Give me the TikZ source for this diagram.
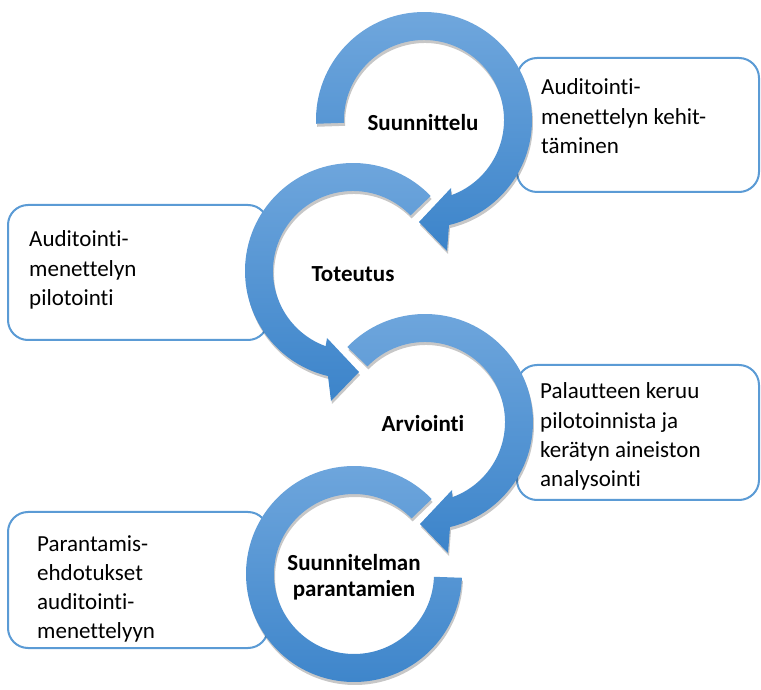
\documentclass[tikz,border=0pt]{standalone}
\usepackage{fontspec}
\setmainfont{Carlito}[Ligatures=NoCommon]
\usetikzlibrary{shadows}
\definecolor{boxline}{RGB}{91,155,213}
\definecolor{ringtop}{RGB}{112,167,221}
\definecolor{ringbot}{RGB}{60,132,202}
\begin{document}
\begin{tikzpicture}[x=1pt,y=1pt,
  infobox/.style={draw=boxline, line width=2pt, fill=white, rounded corners=20pt},
  ring/.style={top color=ringtop, bottom color=ringbot, draw=none,
    drop shadow={shadow xshift=1pt, shadow yshift=-3pt, opacity=0.22, fill=black}},
  boxtext/.style={anchor=base west, inner sep=0pt, font=\fontsize{23}{29.3}\selectfont},
  steplabel/.style={anchor=base, inner sep=0pt, font=\bfseries\fontsize{23}{26}\selectfont}
]
\useasboundingbox (0,0) rectangle (761,689);

% information boxes (behind the rings)
\path[infobox] (517,497) rectangle (759,631);
\path[infobox] (8,349) rectangle (268,484);
\path[infobox] (517,189) rectangle (759,324);
\path[infobox] (8,41) rectangle (268,177);

% ring 1: Suunnittelu (clockwise, arrow at bottom)
\begin{scope}[shift={(424,569)}]
\path[ring] (182:108) arc[start angle=182, end angle=-76.6, radius=108]
  -- (23,-131) -- (-5,-102) -- (27,-68) -- (-70:80)
  arc[start angle=-70, end angle=182, radius=80] -- cycle;
\end{scope}

% ring 2: Toteutus (counter-clockwise, arrow at bottom)
\begin{scope}[shift={(353,418)}]
\path[ring] (44:108) arc[start angle=44, end angle=256.6, radius=108]
  -- (-22,-130) -- (6,-101) -- (-26,-67) -- (250:80)
  arc[start angle=250, end angle=44, radius=80] -- cycle;
\end{scope}

% ring 3: Arviointi (clockwise, arrow at bottom)
\begin{scope}[shift={(425,267)}]
\path[ring] (136:108) arc[start angle=136, end angle=-76.6, radius=108]
  -- (23,-131) -- (-5,-102) -- (27,-68) -- (-70:80)
  arc[start angle=-70, end angle=136, radius=80] -- cycle;
\end{scope}

% ring 4: Suunnitelman parantamien (no arrow head)
\begin{scope}[shift={(354,115)}]
\path[ring] (44:108) arc[start angle=44, end angle=358, radius=108]
  -- (358:80) arc[start angle=358, end angle=44, radius=80] -- cycle;
\end{scope}

% step labels
\node[steplabel] (s1) at (423,558) {Suunnittelu};
\node[steplabel] (s2) at (353,407) {Toteutus};
\node[steplabel] (s3) at (423,257) {Arviointi};
\node[steplabel] (s4) at (354,119) {\begin{tabular}[t]{@{}c@{}}Suunnitelman\\parantamien\end{tabular}};

% box texts
\node[boxtext] (t1) at (541,594) {\begin{tabular}[t]{@{}l@{}}Auditointi-\\menettelyn kehit-\\täminen\end{tabular}};
\node[boxtext] (t2) at (29,442) {\begin{tabular}[t]{@{}l@{}}Auditointi-\\menettelyn\\pilotointi\end{tabular}};
\node[boxtext] (t3) at (540,290) {\begin{tabular}[t]{@{}l@{}}Palautteen keruu\\pilotoinnista ja\\kerätyn aineiston\\analysointi\end{tabular}};
\node[boxtext] (t4) at (37,138) {\begin{tabular}[t]{@{}l@{}}Parantamis-\\ehdotukset\\auditointi-\\menettelyyn\end{tabular}};
\end{tikzpicture}
\end{document}
